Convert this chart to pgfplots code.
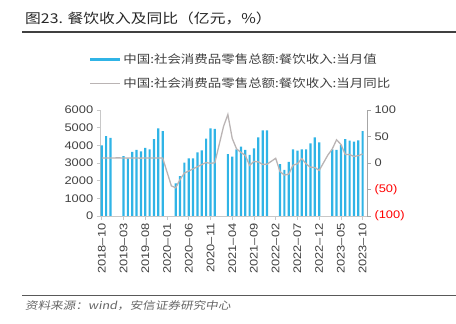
\documentclass[border=0pt]{standalone}
\usepackage{fontspec}
\setmainfont{Liberation Sans}[FakeStretch=1.17]
\newfontfamily\cjk{Noto Sans CJK SC}[FakeStretch=1.17]
\newfontfamily\cjkfoot{Noto Sans CJK SC}[FakeStretch=1.2,FakeSlant=0.18]
\usepackage{pgfplots}
\pgfplotsset{compat=1.18}
\usepackage{pgfplotstable}
\definecolor{barblue}{HTML}{30B4E6}
\definecolor{linegray}{HTML}{BAB4B4}
\definecolor{labgray}{HTML}{404040}
\definecolor{axgrayL}{HTML}{C8C8C8}
\definecolor{axgrayR}{HTML}{A6A6A6}
\definecolor{rulegray}{HTML}{404040}

\pgfplotstableread{
x y
0 4000
1 4528
2 4415
5 3396
6 3264
7 3623
8 3736
9 3660
10 3849
11 3773
12 4358
13 4962
14 4811
17 1849
18 2264
19 3020
20 3264
21 3264
22 3603
23 3717
24 4377
25 4962
26 4925
29 3509
30 3358
31 3773
32 3924
33 3736
34 3453
35 3830
36 4453
37 4849
38 4849
41 2943
42 2604
43 3057
44 3773
45 3698
46 3773
47 3773
48 4113
49 4453
50 4170
53 3773
54 3736
55 4019
56 4358
57 4264
58 4208
59 4283
60 4811
}\bardata

\pgfplotstableread{
x y
0 9.4
1 9.4
2 9.5
4 9.7
5 9.4
6 9.2
7 9.5
8 9.3
9 9.2
10 9.4
11 9.4
12 9.3
13 9.4
14 9.4
16 -43.1
17 -46.8
18 -31.1
19 -18.9
20 -15.2
21 -11.0
22 -7.0
23 -2.9
24 0.8
25 -0.6
26 0.4
28 68.9
29 91.6
30 46.4
31 26.6
32 20.0
33 14.3
34 -4.5
35 3.1
36 2.0
37 -2.7
38 -2.3
40 8.9
41 -16.4
42 -22.7
43 -21.1
44 -4.0
45 -1.5
46 8.4
47 -1.7
48 -8.1
49 -8.4
50 -14.1
52 15.0
53 26.3
54 43.8
55 35.1
56 16.1
57 15.8
58 12.4
59 13.8
60 17.1
}\yoydata

\begin{document}
\begin{tikzpicture}
\path[use as bounding box] (0pt,0pt) rectangle (456pt,324pt);
% title
\node[anchor=base west, inner sep=0pt, text=black!85] at (25pt,300pt)
  {\cjk\fontsize{13.5}{14}\selectfont 图23. 餐饮收入及同比（亿元，\%）};
\draw[line width=1.5pt, color=rulegray] (22pt,292pt) -- (456pt,292pt);
% footer
\draw[line width=1pt, color=black!65] (22pt,28pt) -- (456pt,28pt);
\node[anchor=base west, inner sep=0pt, text=black!60] at (25pt,14pt)
  {\cjkfoot\fontsize{10.5}{11}\selectfont 资料来源：wind，安信证券研究中心};

\begin{axis}[
  at={(100.7pt,108pt)}, anchor=south west,
  scale only axis, width=266.3pt, height=106pt,
  xmin=-0.25, xmax=61, ymin=0, ymax=6000,
  axis x line*=bottom, axis y line*=left,
  xtick pos=left, ytick pos=left,
  xtick={0,5,...,60},
  xticklabels={2018–10,2019–03,2019–08,2020–01,2020–06,2020–11,2021–04,2021–09,2022–02,2022–07,2022–12,2023–05,2023–10},
  x tick label style={rotate=90, anchor=east},
  ytick={0,1000,...,6000},
  tick align=outside, major tick length=4pt,
  axis line style={color=axgrayL, line width=0.8pt},
  tick style={color=axgrayL, line width=0.8pt},
  ticklabel style={font=\fontsize{11}{11}\selectfont, text=labgray},
  /pgf/number format/assume math mode=true,
  /pgf/number format/set thousands separator={},
  scaled y ticks=false,
  clip=false,
]
\addplot[ybar, bar width=2.2pt, fill=barblue, draw=none] table[x=x,y=y] {\bardata};
\end{axis}

\begin{axis}[
  at={(100.7pt,108pt)}, anchor=south west,
  scale only axis, width=266.3pt, height=106pt,
  xmin=-0.25, xmax=61, ymin=-100, ymax=100,
  axis x line=none, axis y line*=right,
  ytick pos=right,
  ytick={-100,-50,0,50,100},
  yticklabels={\textcolor{red}{(100)},\textcolor{red}{(50)},0,50,100},
  yticklabel style={anchor=west},
  tick align=outside, major tick length=4pt,
  axis line style={color=axgrayR, line width=0.8pt},
  tick style={color=axgrayR, line width=0.8pt},
  ticklabel style={font=\fontsize{11}{11}\selectfont, text=labgray},
  /pgf/number format/assume math mode=true,
  clip=false,
  legend image code/.code={\draw[#1] (0pt,0pt) -- (30pt,0pt);},
  legend style={at={(-0.045,1.55)}, anchor=north west, draw=none, fill=none,
    inner sep=0pt, outer sep=0pt, row sep=9pt,
    nodes={inner sep=2pt},
    font=\cjk\fontsize{11.5}{12}\selectfont, text=labgray},
  legend cell align=left,
]
\addlegendimage{line width=2.7pt, color=barblue}
\addlegendentry{中国:社会消费品零售总额:餐饮收入:当月值}
\addplot[color=linegray, line width=1.3pt, mark=none] table[x=x,y=y] {\yoydata};
\addlegendentry{中国:社会消费品零售总额:餐饮收入:当月同比}
\end{axis}
\end{tikzpicture}
\end{document}
